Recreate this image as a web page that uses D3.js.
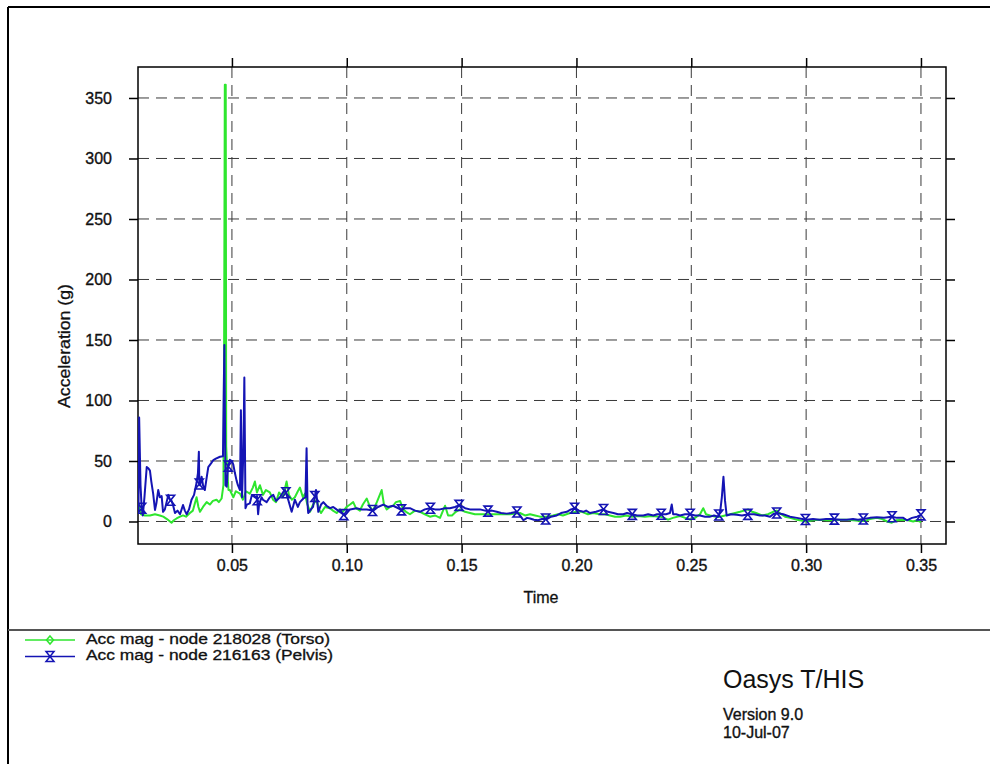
<!DOCTYPE html>
<html><head><meta charset="utf-8">
<script src="https://cdn.jsdelivr.net/npm/d3@7"></script>
<style>
body{margin:0;background:#fff;}
svg{display:block;}
text{font-family:"Liberation Sans",Arial,Helvetica,sans-serif;fill:#111;}
</style>
</head><body>
<svg id="c" width="990" height="764"></svg>
<script>
// ---------- data ----------
const seriesNames = ["Acc mag - node 218028 (Torso)", "Acc mag - node 216163 (Pelvis)"];
const xTicks = [0.05, 0.10, 0.15, 0.20, 0.25, 0.30, 0.35];
const yTicks = [0, 50, 100, 150, 200, 250, 300, 350];

const torsoTime = [0.0093,0.0097,0.0104,0.0121,0.0143,0.0165,0.0186,0.0201,0.0217,0.0237,
0.0247,0.0259,0.0274,0.0287,0.0300,0.0317,0.0330,0.0346,0.0354,0.0361,
0.0374,0.0390,0.0404,0.0417,0.0433,0.0443,0.0455,0.0463,0.0466,0.0469,
0.0473,0.0475,0.0480,0.0485,0.0491,0.0506,0.0517,0.0535,0.0548,0.0561,
0.0578,0.0591,0.0600,0.0609,0.0622,0.0635,0.0648,0.0665,0.0679,0.0692,
0.0705,0.0722,0.0738,0.0748,0.0761,0.0774,0.0787,0.0796,0.0809,0.0818,
0.0827,0.0840,0.0853,0.0869,0.0879,0.0888,0.0905,0.0927,0.0940,0.0956,
0.0970,0.0983,0.0999,0.1014,0.1028,0.1040,0.1057,0.1070,0.1087,0.1101,
0.1114,0.1131,0.1152,0.1162,0.1174,0.1188,0.1202,0.1214,0.1232,0.1245,
0.1258,0.1275,0.1297,0.1319,0.1340,0.1362,0.1384,0.1406,0.1419,0.1428,
0.1441,0.1458,0.1475,0.1493,0.1515,0.1536,0.1558,0.1580,0.1624,0.1667,
0.1711,0.1754,0.1776,0.1798,0.1820,0.1841,0.1868,0.1898,0.1920,0.1941,
0.1972,0.2001,0.2024,0.2050,0.2072,0.2103,0.2124,0.2146,0.2168,0.2190,
0.2216,0.2242,0.2268,0.2298,0.2329,0.2364,0.2381,0.2399,0.2420,0.2451,
0.2473,0.2495,0.2516,0.2538,0.2552,0.2564,0.2582,0.2603,0.2625,0.2647,
0.2669,0.2691,0.2712,0.2730,0.2747,0.2765,0.2782,0.2808,0.2834,0.2856,
0.2872,0.2891,0.2908,0.2930,0.2960,0.3000,0.3030,0.3060,0.3091,0.3117,
0.3148,0.3177,0.3204,0.3235,0.3257,0.3278,0.3308,0.3331,0.3353,0.3373,
0.3392,0.3423,0.3444,0.3466,0.3483,0.3500];
const torsoAcc = [15,12,6,5,5,6,5,4,2,-1,
1,2.5,4,5,4,7,9,20,12,8,
12,16,14,17,18,16,19,30,150,361,
361,62,40,26,26,20,25,23,18,25,
23,28,33,24,30,22,26,24,18,16,
24,20,33,22,18,20,25,28,20,23,
15,8,14,18,10,7,12,11,9,7,
10,8,12,14,16,11,9,14,19,12,
9,16,26,14,10,12,13,16,17,10,
8,6,9,8,6,4,5,3,9,13,
5,5,8,10,8,7,6,6,6,6,
6,7,5,6,5,4,4,5,6,5,
7,8,8,6,7,6,6,5,4,4,
5,4,4.5,4,4.5,4,3,1.5,3,4.5,
3,1.5,3,6,11,6,5,4,4,5,
6,7,8,9,10,8,7,5,6,8,
9,6,4,3,1.5,0,1,1.5,1,1,
1.5,1.5,1,0.5,0.5,2,3,2,0,-1,
1,1.5,1,0,1,-0.5];

const pelvisTime = [0.0093,0.0096,0.0102,0.0107,0.0112,0.0119,0.0129,0.0136,0.0143,0.0149,
0.0157,0.0165,0.0171,0.0179,0.0186,0.0194,0.0200,0.0208,0.0223,0.0230,
0.0237,0.0243,0.0252,0.0263,0.0274,0.0287,0.0295,0.0303,0.0313,0.0324,
0.0335,0.0346,0.0352,0.0356,0.0358,0.0361,0.0368,0.0374,0.0382,0.0389,0.0397,
0.0409,0.0419,0.0430,0.0448,0.0461,0.0467,0.0472,0.0477,0.0483,0.0491,
0.0500,0.0506,0.0513,0.0520,0.0526,0.0535,0.0539,0.0544,0.0550,0.0554,
0.0559,0.0565,0.0578,0.0587,0.0600,0.0609,0.0614,0.0618,0.0629,0.0635,0.0651,
0.0665,0.0680,0.0692,0.0709,0.0722,0.0731,0.0745,0.0760,0.0774,0.0787,
0.0796,0.0811,0.0820,0.0825,0.0829,0.0832,0.0844,0.0853,0.0866,0.0876,
0.0888,0.0898,0.0912,0.0927,0.0941,0.0955,0.0970,0.0992,0.1014,0.1043,
0.1062,0.1087,0.1115,0.1136,0.1159,0.1179,0.1202,0.1239,0.1253,0.1275,
0.1297,0.1319,0.1340,0.1362,0.1384,0.1406,0.1428,0.1449,0.1471,0.1493,
0.1515,0.1536,0.1558,0.1580,0.1602,0.1616,0.1632,0.1653,0.1672,0.1696,
0.1715,0.1740,0.1754,0.1769,0.1785,0.1798,0.1815,0.1833,0.1850,0.1871,
0.1889,0.1914,0.1933,0.1958,0.1976,0.1994,0.2011,0.2030,0.2042,0.2059,
0.2085,0.2117,0.2137,0.2161,0.2181,0.2204,0.2220,0.2241,0.2264,0.2291,
0.2312,0.2335,0.2351,0.2371,0.2390,0.2407,0.2415,0.2421,0.2434,0.2451,
0.2473,0.2495,0.2516,0.2538,0.2560,0.2582,0.2599,0.2618,0.2627,0.2633,
0.2640,0.2647,0.2654,0.2673,0.2698,0.2721,0.2749,0.2773,0.2799,0.2821,
0.2843,0.2856,0.2872,0.2900,0.2930,0.2960,0.3000,0.3030,0.3060,0.3087,
0.3118,0.3148,0.3177,0.3204,0.3226,0.3249,0.3278,0.3308,0.3339,0.3373,
0.3396,0.3423,0.3439,0.3461,0.3483,0.3500];
const pelvisAcc = [8,86,30,11,5,20,45,44,42,33,
23,9.5,15,26,20,21,8,10,22,18,
17,14,7,9,6,13.6,9,6,10,18,
22,32,40,57.7,31,30,37,30,26,35,45,
48,50.8,52,53.5,54,145.8,30,28.8,45,51,
50,47,40,34,30,26,92,20,60,119,
11,14,15,22,20,21,6,14,20,18,16,
20,22,17,20,24,26,18,8,18,12,
16,19,20,60.5,15,7,10,12,26,8,
14,16,13,11,12,10,8,5,10,11,
10,10,9,12,14,12,13,9.5,11,11,
9,8,10,11,10,10,11,11,12,13.6,
11,10,10,10,9,8.5,9,8,7,6.5,
7,8,5,1,3,2.5,1.5,1,2,2,
4,5,7,8,10,11,9,8,9,7,
8,10,8,7,6,6,7,6,5,5,
6,5,6,6,6,7,14,6,6,5,
6,6,5,5,4,4,5,4,10,20,
37,17,5,6,5.5,5,6,6,5,5,
4,6,7,6,4,3,1.5,2,1.5,2,
2,1.5,1.5,2,1.5,2,3,3.5,3,4,
3,3,1,3,4,5.5];

// symbol marker times on the Pelvis curve
const markerTimes = [0.0107,0.0233,0.0358,0.0484,0.0610,0.0735,0.0861,0.0987,0.1112,0.1238,
0.1364,0.1489,0.1615,0.1741,0.1866,0.1992,0.2118,0.2243,0.2369,0.2495,
0.2620,0.2746,0.2872,0.2997,0.3123,0.3249,0.3374,0.3500];

// ---------- layout / style ----------
const L = 138, R = 946, T = 67, B = 544;
const GREEN = "#2ee62e", BLUE = "#1414b4";
const INK = "#111";
const svg = d3.select("#c");

const x = d3.scaleLinear().domain([0.0091, 0.3609]).range([L, R]);
const y = d3.scaleLinear().domain([-18.6, 375.6]).range([B, T]);

// outer page border (left / top) and separator
svg.append("line").attr("x1",8).attr("x2",8).attr("y1",7).attr("y2",764).attr("stroke","#000").attr("stroke-width",2);
svg.append("line").attr("x1",8).attr("x2",990).attr("y1",7).attr("y2",7).attr("stroke","#000").attr("stroke-width",2);
svg.append("line").attr("x1",8).attr("x2",990).attr("y1",630).attr("y2",630).attr("stroke","#555").attr("stroke-width",2);

// grid
const grid = svg.append("g").attr("stroke","#3a3a3a").attr("stroke-width",1).attr("stroke-dasharray","11,7");
grid.selectAll(".vx").data(xTicks).join("line")
  .attr("x1",d=>x(d)).attr("x2",d=>x(d)).attr("y1",T).attr("y2",B);
grid.selectAll(".hy").data(yTicks).join("line")
  .attr("y1",d=>y(d)).attr("y2",d=>y(d)).attr("x1",L).attr("x2",R);

// axes
const fmtX = d3.format(".2f");
const axB = svg.append("g").attr("transform",`translate(0,${B})`)
  .call(d3.axisBottom(x).tickValues(xTicks).tickFormat(fmtX).tickSize(9).tickSizeOuter(0).tickPadding(7));
const axT = svg.append("g").attr("transform",`translate(0,${T})`)
  .call(d3.axisTop(x).tickValues(xTicks).tickFormat("").tickSize(9).tickSizeOuter(0));
const axL = svg.append("g").attr("transform",`translate(${L},0)`)
  .call(d3.axisLeft(y).tickValues(yTicks).tickFormat(d3.format("d")).tickSize(9).tickSizeOuter(0).tickPadding(17));
const axR = svg.append("g").attr("transform",`translate(${R},0)`)
  .call(d3.axisRight(y).tickValues(yTicks).tickFormat("").tickSize(9).tickSizeOuter(0));
[axB,axT,axL,axR].forEach(a=>{
  a.select(".domain").remove();
  a.selectAll(".tick line").attr("stroke","#000").attr("stroke-width",1.5);
  a.selectAll("text").attr("font-size",16).attr("font-family","Liberation Sans, Arial, sans-serif")
    .attr("fill",INK).attr("stroke",INK).attr("stroke-width",0.35);
});

// frame
svg.append("rect").attr("x",L).attr("y",T).attr("width",R-L).attr("height",B-T)
  .attr("fill","none").attr("stroke","#000").attr("stroke-width",1.5);

// axis titles
svg.append("text").attr("x",541).attr("y",599).attr("text-anchor","middle").attr("dominant-baseline","middle")
  .attr("font-size",16).attr("stroke",INK).attr("stroke-width",0.3).text("Time");
svg.append("text").attr("transform","translate(66,346) rotate(-90)").attr("text-anchor","middle").attr("dominant-baseline","middle")
  .attr("font-size",16).attr("stroke",INK).attr("stroke-width",0.3)
  .attr("textLength",124).attr("lengthAdjust","spacingAndGlyphs").text("Acceleration (g)");

// clip
svg.append("clipPath").attr("id","clip").append("rect").attr("x",L).attr("y",T).attr("width",R-L).attr("height",B-T);
const plot = svg.append("g").attr("clip-path","url(#clip)");

const line = d3.line().x(d=>x(d[0])).y(d=>y(d[1]));
const torso = torsoTime.map((t,i)=>[t,torsoAcc[i]]);
const pelvis = pelvisTime.map((t,i)=>[t,pelvisAcc[i]]);

function valueAt(times, vals, t){
  const i = d3.bisectLeft(times, t);
  if (i<=0) return vals[0];
  if (i>=times.length) return vals[vals.length-1];
  const t0=times[i-1], t1=times[i];
  const f=(t-t0)/(t1-t0);
  return vals[i-1]+(vals[i]-vals[i-1])*f;
}
const diamond = "M0,-4L3.5,0L0,4L-3.5,0Z";
const hourglass = "M-4,-5H4L-4,5H4Z";

plot.append("path").datum(torso).attr("d",line).attr("fill","none").attr("stroke",GREEN).attr("stroke-width",2).attr("stroke-linejoin","round");
plot.append("path").datum(pelvis).attr("d",line).attr("fill","none").attr("stroke",BLUE).attr("stroke-width",2).attr("stroke-linejoin","round");
plot.selectAll(".mp").data(markerTimes).join("path")
  .attr("transform",t=>`translate(${x(t)},${y(valueAt(pelvisTime,pelvisAcc,t))})`)
  .attr("d",hourglass).attr("fill","none").attr("stroke",BLUE).attr("stroke-width",1.6);

// legend
const leg = svg.append("g");
const legColors = [GREEN, BLUE], legSyms = [diamond, hourglass], legY = [640, 656.5], legLen = [244, 247];
seriesNames.forEach((name,i)=>{
  leg.append("line").attr("x1",25).attr("x2",75).attr("y1",legY[i]).attr("y2",legY[i]).attr("stroke",legColors[i]).attr("stroke-width",1.5);
  leg.append("path").attr("d",legSyms[i]).attr("transform",`translate(50,${legY[i]})`).attr("fill","none").attr("stroke",legColors[i]).attr("stroke-width",1.5);
  leg.append("text").attr("x",86).attr("y",legY[i]).attr("dominant-baseline","middle").attr("font-size",14)
    .attr("stroke",INK).attr("stroke-width",0.3)
    .attr("textLength",legLen[i]).attr("lengthAdjust","spacingAndGlyphs").text(name);
});

// footer text
svg.append("text").attr("x",723).attr("y",681).attr("dominant-baseline","middle").attr("font-size",25).text("Oasys T/HIS");
svg.append("text").attr("x",723).attr("y",716).attr("dominant-baseline","middle").attr("font-size",16)
  .attr("stroke",INK).attr("stroke-width",0.35).text("Version 9.0");
svg.append("text").attr("x",723).attr("y",734).attr("dominant-baseline","middle").attr("font-size",16)
  .attr("stroke",INK).attr("stroke-width",0.35).text("10-Jul-07");
</script>
</body></html>
